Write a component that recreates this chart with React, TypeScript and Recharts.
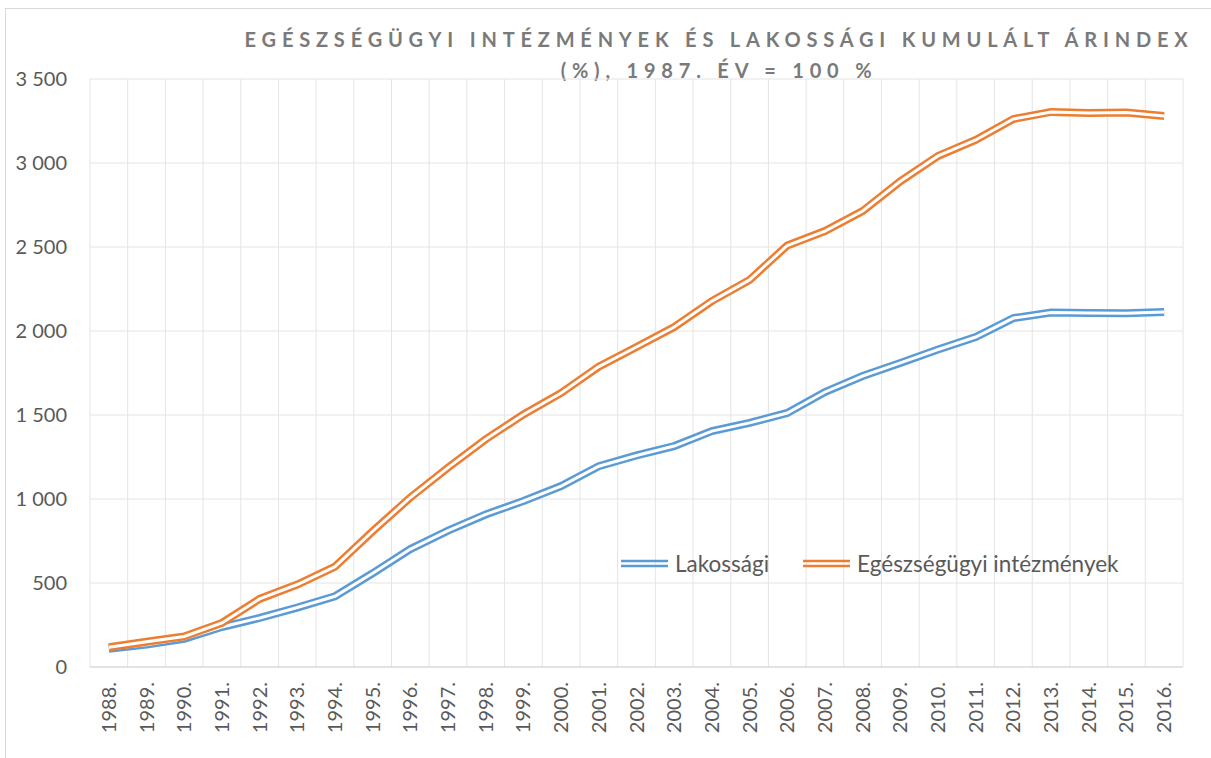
import { LineChart, Line, XAxis, YAxis, CartesianGrid, Legend } from 'recharts';

const years = [
  '1988.', '1989.', '1990.', '1991.', '1992.', '1993.', '1994.', '1995.', '1996.', '1997.',
  '1998.', '1999.', '2000.', '2001.', '2002.', '2003.', '2004.', '2005.', '2006.', '2007.',
  '2008.', '2009.', '2010.', '2011.', '2012.', '2013.', '2014.', '2015.', '2016.',
];

const lakossagi = [
  108, 133, 168, 238, 292, 354, 421, 558, 702, 812,
  908, 988, 1077, 1195, 1259, 1315, 1404, 1453, 1512, 1637,
  1732, 1810, 1890, 1964, 2077, 2110, 2107, 2105, 2113,
];

const egeszsegugyi = [
  118, 150, 182, 262, 405, 491, 597, 808, 1009, 1187,
  1356, 1503, 1631, 1788, 1905, 2024, 2178, 2304, 2509, 2595,
  2714, 2891, 3042, 3137, 3262, 3304, 3298, 3300, 3280,
];

const yTicks = [0, 500, 1000, 1500, 2000, 2500, 3000, 3500];

const data = years.map((year, i) => ({
  year,
  lak: lakossagi[i],
  egi: egeszsegugyi[i],
}));

const BLUE = '#5B9BD5';
const ORANGE = '#ED7D31';
const TEXT = '#595959';
const FONT = 'Lato, "Liberation Sans", sans-serif';

const fmt = (v: number) => (v >= 1000 ? `${Math.floor(v / 1000)} ${String(v % 1000).padStart(3, '0')}` : String(v));

const XTick = ({ x, y, payload }: any) => (
  <text
    x={x}
    y={y}
    transform={`rotate(-90 ${x} ${y})`}
    textAnchor="end"
    dy="0.35em"
    fill={TEXT}
    fontSize={20}
    fontFamily={FONT}
  >
    {payload.value}
  </text>
);

const DoubleSample = ({ color }: { color: string }) => (
  <svg width={47} height={9} style={{ marginRight: 7 }}>
    <line x1={0} x2={47} y1={2} y2={2} stroke={color} strokeWidth={2.5} />
    <line x1={0} x2={47} y1={7} y2={7} stroke={color} strokeWidth={2.5} />
  </svg>
);

const LegendBox = () => (
  <div style={{ display: 'flex', alignItems: 'center', fontFamily: FONT, fontSize: 22.5, color: TEXT, whiteSpace: 'nowrap' }}>
    <DoubleSample color={BLUE} />
    <span style={{ marginRight: 34 }}>Lakossági</span>
    <DoubleSample color={ORANGE} />
    <span>Egészségügyi intézmények</span>
  </div>
);

function App() {
  return (
    <div style={{ position: 'absolute', left: 0, top: 0, width: 1211, height: 758, overflow: 'hidden', background: '#fff' }}>
      <div style={{ position: 'absolute', left: 5, top: 8, width: 1400, height: 900, border: '1px solid #d9d9d9' }} />
      <div
        style={{
          position: 'absolute',
          left: 219,
          top: 24,
          width: 1000,
          textAlign: 'center',
          fontFamily: FONT,
          fontWeight: 'bold',
          fontSize: 20,
          lineHeight: '31px',
          letterSpacing: 5.8,
          color: '#7a7a7a',
        }}
      >
        EGÉSZSÉGÜGYI INTÉZMÉNYEK ÉS LAKOSSÁGI KUMULÁLT ÁRINDEX
        <br />
        (%), 1987. ÉV = 100 %
      </div>
      <LineChart
        width={1211}
        height={758}
        data={data}
        margin={{ top: 79, right: 28, left: 0, bottom: 0 }}
        style={{ position: 'absolute', left: 0, top: 0 }}
      >
        <CartesianGrid
          stroke="#e4e4e4"
          verticalCoordinatesGenerator={({ offset }: any) =>
            years.map((_, i) => offset.left + (i * offset.width) / years.length).concat(offset.left + offset.width)
          }
        />
        <XAxis
          dataKey="year"
          scale="band"
          interval={0}
          height={91}
          tickLine={false}
          tickSize={0}
          tickMargin={15}
          axisLine={{ stroke: '#d4d4d4' }}
          tick={<XTick />}
        />
        <YAxis
          width={90}
          domain={[0, 3500]}
          ticks={yTicks}
          tickFormatter={fmt}
          axisLine={false}
          tickLine={false}
          tickSize={0}
          tickMargin={23}
          tick={{ fill: TEXT, fontSize: 20, fontFamily: FONT }}
        />
        <Legend
          layout="horizontal"
          verticalAlign="middle"
          align="center"
          content={<LegendBox />}
          wrapperStyle={{ left: 621, top: 550, width: 'auto' }}
        />
        <Line dataKey="lak" name="Lakossági" type="linear" stroke={BLUE} strokeWidth={8} dot={false} activeDot={false} isAnimationActive={false} legendType="none" />
        <Line dataKey="lak" type="linear" stroke="#fff" strokeWidth={3} dot={false} activeDot={false} isAnimationActive={false} legendType="none" />
        <Line dataKey="egi" name="Egészségügyi intézmények" type="linear" stroke={ORANGE} strokeWidth={8} dot={false} activeDot={false} isAnimationActive={false} legendType="none" />
        <Line dataKey="egi" type="linear" stroke="#fff" strokeWidth={3} dot={false} activeDot={false} isAnimationActive={false} legendType="none" />
      </LineChart>
    </div>
  );
}

export default App;
